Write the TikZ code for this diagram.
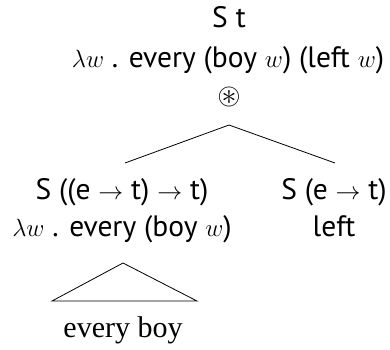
\documentclass[tikz,border=0pt]{standalone}
\usepackage{amssymb}
\usepackage{fontspec}
\newfontfamily\sansf{PT Sans}
\newfontfamily\seriff{Liberation Serif}
\begin{document}
\begin{tikzpicture}[x=1pt,y=1pt,
  lbl/.style={inner sep=0pt,anchor=base,font=\fontsize{29.5}{34}\sansf},
  serifl/.style={inner sep=0pt,anchor=base,font=\fontsize{30}{34}\seriff},
  edge/.style={line width=0.8pt}]
\useasboundingbox (0,0) rectangle (390,349);
\node[lbl] (top1) at (229,321) {S t};
\node[lbl] (top2) at (228,282) {$\lambda w$ . every (boy $w$) (left $w$)};
\node[inner sep=0pt,font=\fontsize{30}{34}\selectfont] (op) at (229,252) {$\circledast$};
\coordinate (apex) at (229,224);
\coordinate (le) at (125,186);
\coordinate (re) at (335,186);
\node[lbl] (l1) at (122,150) {S ((e $\to$ t) $\to$ t)};
\node[lbl] (l2) at (122,113) {$\lambda w$ . every (boy $w$)};
\node[lbl] (r1) at (334,150) {S (e $\to$ t)};
\node[lbl] (r2) at (334,113) {left};
\coordinate (tapex) at (123,86);
\coordinate (tl) at (52,48);
\coordinate (tr) at (197,48);
\node[serifl] (wb) at (123,12) {every boy};
\draw[edge] (le) -- (apex) -- (re);
\draw[edge] (tapex) -- (tl) -- (tr) -- cycle;
\end{tikzpicture}
\end{document}
